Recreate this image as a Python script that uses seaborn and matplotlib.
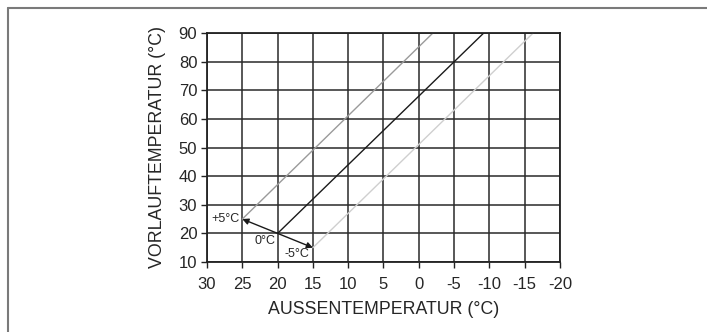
import matplotlib
matplotlib.use('Agg')
import matplotlib.pyplot as plt
import pandas as pd
import seaborn as sns
from matplotlib.lines import Line2D

# Heating curves: flow temperature vs outside temperature, shifted by offset
curves = ['+5°C', '0°C', '-5°C']
start_outside = [25, 20, 15]
start_flow = [25, 20, 15]
end_outside = [-2, -9.2, -16.2]
end_flow = [90, 90, 90]
curve_colors = ['#9a9a9a', '#1a1a1a', '#cfcfcf']

x_ticks = [30, 25, 20, 15, 10, 5, 0, -5, -10, -15, -20]
y_ticks = [10, 20, 30, 40, 50, 60, 70, 80, 90]

rows = []
for name, x0, y0, x1, y1 in zip(curves, start_outside, start_flow, end_outside, end_flow):
    rows.append({'curve': name, 'outside': x0, 'flow': y0})
    rows.append({'curve': name, 'outside': x1, 'flow': y1})
df = pd.DataFrame(rows)

sns.set_style('white')
plt.rcParams['font.family'] = ['Liberation Sans', 'DejaVu Sans']

fig = plt.figure(figsize=(7.07, 3.32), dpi=100)
ax = fig.add_axes([207 / 707, 1 - 262 / 332, 353 / 707, 229 / 332])

sns.lineplot(data=df, x='outside', y='flow', hue='curve', palette=dict(zip(curves, curve_colors)),
             sort=False, legend=False, linewidth=1.0, ax=ax)

ax.set_xlim(30, -20)
ax.set_ylim(10, 90)
ax.set_xticks(x_ticks)
ax.set_xticklabels([str(t) for t in x_ticks])
ax.set_yticks(y_ticks)
ax.grid(True, color='#2a2a2a', linewidth=1.1)
ax.set_axisbelow(True)
for s in ax.spines.values():
    s.set_color('#222222')
    s.set_linewidth(1.3)
ax.tick_params(axis='both', direction='out', length=4, width=1, color='#222222',
               labelsize=12, left=True, bottom=True)
ax.tick_params(axis='x', pad=7)
ax.tick_params(axis='y', pad=3)

ax.set_xlabel('AUSSENTEMPERATUR (°C)', fontsize=12.8, labelpad=6)
ax.set_ylabel('VORLAUFTEMPERATUR (°C)', fontsize=12.8, labelpad=9)

# arrows showing the parallel shift of the curve
base = 1
for i in (0, 2):
    ax.annotate('', xy=(start_outside[i], start_flow[i]),
                xytext=(start_outside[base], start_flow[base]),
                arrowprops=dict(arrowstyle='-|>', color='#1a1a1a', lw=1.0,
                                shrinkA=0, shrinkB=0, mutation_scale=9))

ax.text(25.4, 25, curves[0], ha='right', va='center', fontsize=9)
ax.text(21.8, 17.2, curves[1], ha='center', va='center', fontsize=9)
ax.text(17.3, 12.8, curves[2], ha='center', va='center', fontsize=9)

# outer frame (left and top edges only)
fig.add_artist(Line2D([8 / 707, 8 / 707], [0, 1 - 8 / 332], transform=fig.transFigure,
                      color='#7a7a7a', linewidth=1.5))
fig.add_artist(Line2D([8 / 707, 1], [1 - 8 / 332, 1 - 8 / 332], transform=fig.transFigure,
                      color='#7a7a7a', linewidth=1.5))

fig.savefig('out.png', dpi=100)
